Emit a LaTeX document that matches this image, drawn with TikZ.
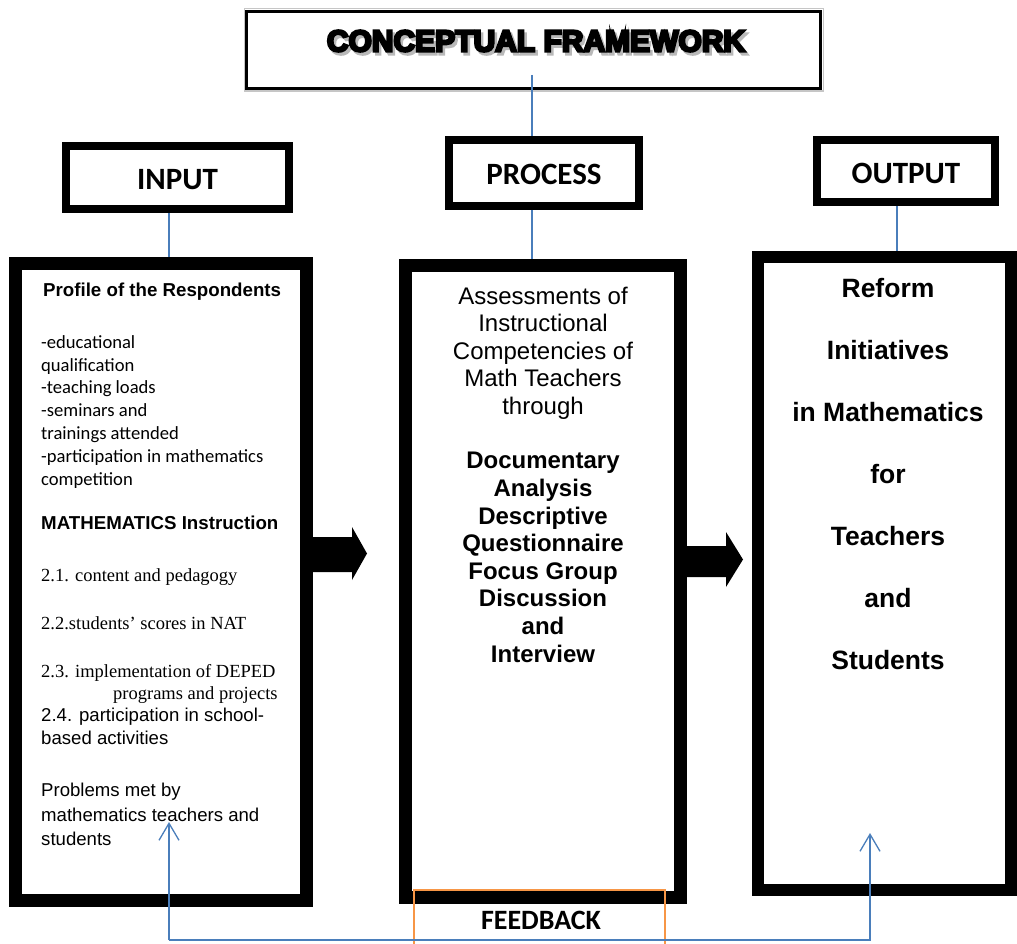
\documentclass[tikz,border=0pt]{standalone}
\usepackage{fontspec}
\usetikzlibrary{arrows.meta,calc}
\newfontfamily\arialf{Liberation Sans}
\newfontfamily\calf{Carlito}
\newfontfamily\timesf{Liberation Serif}
\newfontfamily\heavyf[FakeBold=8]{Liberation Sans Bold}
\definecolor{lnblue}{HTML}{4A7EBB}
\definecolor{fborange}{HTML}{F79646}
\newcommand{\shadowed}[4]{\makebox[0pt][l]{\hspace{#2}\raisebox{#3}{\textcolor{#4}{#1}}}#1}
\tikzset{
  hdrbox/.style={draw=black, line width=8pt, fill=white, inner sep=0pt,
    text height=24pt, text depth=0pt,
    font=\calf\bfseries\fontsize{31}{36}\selectfont},
  mainbox/.style={draw=black, line width=13pt, fill=white, inner sep=0pt},
  titlef/.style={inner sep=0pt, font=\heavyf\fontsize{30}{36}\selectfont},
  pbold/.style={inner sep=0pt, anchor=west, text height=14pt, text depth=1pt,
    font=\arialf\bfseries\fontsize{18.7}{23}\selectfont},
  calr/.style={inner sep=0pt, anchor=west, text height=13pt, text depth=1pt,
    font=\calf\fontsize{18.6}{23}\selectfont},
  timr/.style={inner sep=0pt, anchor=west, text height=13pt, text depth=1pt,
    font=\timesf\fontsize{18.5}{22}\selectfont},
  arr/.style={inner sep=0pt, anchor=west, text height=13.5pt, text depth=1pt,
    font=\arialf\fontsize{18.6}{22}\selectfont},
  procr/.style={inner sep=0pt, text height=17.5pt, text depth=1.5pt,
    font=\arialf\fontsize{24}{28}\selectfont},
  procb/.style={inner sep=0pt, text height=17.5pt, text depth=1.5pt,
    font=\arialf\bfseries\fontsize{24}{28}\selectfont},
  outb/.style={inner sep=0pt, text height=19pt, text depth=1.5pt,
    font=\arialf\bfseries\fontsize{26.5}{30}\selectfont},
  blueline/.style={draw=lnblue, line width=1.3pt},
  fbarrow/.style={blueline, -{Straight Barb[length=17pt,width=20pt,line width=1.3pt]}},
  fbtxt/.style={inner sep=0pt, font=\calf\bfseries\fontsize{28}{32}\selectfont}
}
\begin{document}
\begin{tikzpicture}[x=1pt,y=-1pt]
\useasboundingbox (0,0) rectangle (1017,944);

% ---- title
\draw[gray!45, line width=1.5pt] (244.5,8.5) rectangle (823.5,91);
\node[draw=black, line width=3pt, fill=white, minimum width=574pt, minimum height=77pt, inner sep=0pt] (title) at (533.5,50) {};
\node[titlef] (titletext) at (536,42.5) {\shadowed{CONCEPTUAL FRAMEWORK}{2.5pt}{-3pt}{gray!55}};

% ---- header boxes
\node[hdrbox, minimum width=223pt, minimum height=63pt] (inhead) at (177.5,177.5) {INPUT};
\node[hdrbox, minimum width=190pt, minimum height=66pt] (prochead) at (544,173) {PROCESS};
\node[hdrbox, text height=26pt, minimum width=178pt, minimum height=62pt] (outhead) at (906,171) {OUTPUT};

% ---- main boxes
\node[mainbox, minimum width=291pt, minimum height=637pt] (inmain) at (161,582) {};
\node[mainbox, minimum width=275pt, minimum height=632pt] (procmain) at (543,581.5) {};
\node[mainbox, line width=12pt, minimum width=253pt, minimum height=633pt] (outmain) at (884.5,573.5) {};

% ---- blue links
\coordinate (ttop) at (532,75);
\coordinate (inx) at (169,0);
\coordinate (procx) at (532,0);
\coordinate (outx) at (897,0);
\draw[blueline] (ttop) -- (ttop |- prochead.north);
\draw[blueline] (inhead.south -| inx) -- (inmain.north -| inx);
\draw[blueline] (prochead.south -| procx) -- (procmain.north -| procx);
\draw[blueline] (outhead.south -| outx) -- (outmain.north -| outx);

% ---- input texts
\node[pbold] (in1) at (43,290) {Profile of the Respondents};
\node[calr] (in2) at (41,342) {-educational};
\node[calr] (in3) at (41,365) {qualification};
\node[calr] (in4) at (41,387) {-teaching loads};
\node[calr] (in5) at (41,410) {-seminars and};
\node[calr] (in6) at (41,433) {trainings attended};
\node[calr] (in7) at (41,456) {-participation in mathematics};
\node[calr] (in8) at (41,479) {competition};
\node[pbold] (in9) at (41,523) {MATHEMATICS Instruction};
\node[timr] (in10) at (41,575) {2.1. content and pedagogy};
\node[timr] (in11) at (41,623) {2.2.students’ scores in NAT};
\node[timr] (in12) at (41,671) {2.3. implementation of DEPED};
\node[timr] (in13) at (113,693) {programs and projects};
\node[arr] (in14) at (41,715) {2.4. participation in school-};
\node[arr] (in15) at (41,738) {based activities};
\node[arr] (in16) at (41,790) {Problems met by};
\node[arr] (in17) at (41,815) {mathematics teachers and};
\node[arr] (in18) at (41,839) {students};

% ---- process texts
\node[procr] (pr1) at (543,296) {Assessments of};
\node[procr] (pr2) at (543,323) {Instructional};
\node[procr] (pr3) at (543,351) {Competencies of};
\node[procr] (pr4) at (543,378) {Math Teachers};
\node[procr] (pr5) at (543,406) {through};
\node[procb] (pr6) at (543,460) {Documentary};
\node[procb] (pr7) at (543,488) {Analysis};
\node[procb] (pr8) at (543,516) {Descriptive};
\node[procb] (pr9) at (543,543) {Questionnaire};
\node[procb] (pr10) at (543,571) {Focus Group};
\node[procb] (pr11) at (543,598) {Discussion};
\node[procb] (pr12) at (543,626) {and};
\node[procb] (pr13) at (543,654) {Interview};

% ---- output texts
\node[outb] (ou1) at (888,289) {Reform};
\node[outb] (ou2) at (888,351) {Initiatives};
\node[outb] (ou3) at (888,413) {in Mathematics};
\node[outb] (ou4) at (888,475) {for};
\node[outb] (ou5) at (888,537) {Teachers};
\node[outb] (ou6) at (888,599) {and};
\node[outb] (ou7) at (888,661) {Students};

% ---- big black arrows
\fill[black] (inmain.east |- 0,537) -- (352,537) -- (352,527) -- (367,553.5)
  -- (352,580) -- (352,572) -- (inmain.east |- 0,572) -- cycle;
\fill[black] (procmain.east |- 0,546) -- (726,546) -- (726,532) -- (743,559.5)
  -- (726,587) -- (726,577) -- (procmain.east |- 0,577) -- cycle;

% ---- feedback
\node[draw=fborange, line width=1.3pt, minimum width=251pt, minimum height=60pt, inner sep=0pt] (fbbox) at (539.5,920) {};
\node[fbtxt] (fbtext) at (541,920) {FEEDBACK};
\coordinate (fbL) at (169,940);
\coordinate (fbR) at (870,940);
\coordinate (tipL) at (169,822);
\coordinate (tipR) at (870,833);
\draw[fbarrow] (fbL) -- (tipL);
\draw[fbarrow] (fbL) -- (fbR) -- (tipR);
\end{tikzpicture}
\end{document}
